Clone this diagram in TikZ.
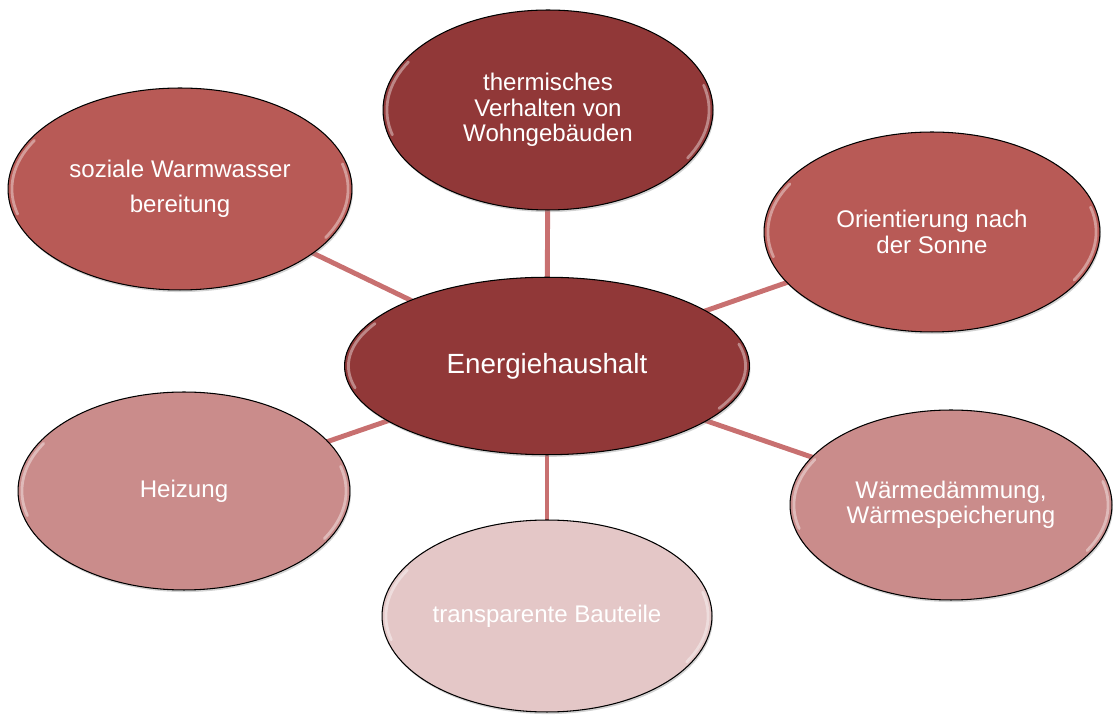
\documentclass[tikz,border=0pt]{standalone}
\usepackage{fontspec}
\setmainfont{Liberation Sans}
\usepackage{tikz}
\usetikzlibrary{shapes.geometric,backgrounds,shadows,calc}

\definecolor{dunkelrot}{HTML}{913838}
\definecolor{mittelrot}{HTML}{B85A56}
\definecolor{hellrot}{HTML}{CA8C8B}
\definecolor{blassrot}{HTML}{E4C7C7}
\definecolor{linie}{HTML}{C87070}

\tikzset{
  bubble/.style={ellipse,draw=black,line width=0.6pt,inner sep=0pt,
    text=white,align=center,font=\fontsize{13.7}{14.5}\selectfont,
    drop shadow={opacity=.35,shadow xshift=0.6pt,shadow yshift=-1.2pt},
    path picture={
      \draw[white,opacity=.4,line width=1.6pt,line cap=round]
        let \p1=($(path picture bounding box.north east)-(path picture bounding box.center)$) in
        (path picture bounding box.center) ++(150:{\x1-2.2pt} and {\y1-2.2pt})
          arc[start angle=150,end angle=195,x radius=\x1-2.2pt,y radius=\y1-2.2pt]
        (path picture bounding box.center) ++(330:{\x1-2.2pt} and {\y1-2.2pt})
          arc[start angle=330,end angle=375,x radius=\x1-2.2pt,y radius=\y1-2.2pt];
    }},
}

\begin{document}
\begin{tikzpicture}[x=0.02cm,y=-0.02cm]
	\useasboundingbox (0,0) rectangle (1113,715);
		\begin{scope}[every node/.style={bubble}]
		    \node[fill=dunkelrot,minimum width=8.1cm,minimum height=3.55cm,font=\fontsize{15.8}{17}\selectfont]
		        (energie) at (547,366) {Energiehaushalt};
		    \node[fill=dunkelrot,minimum width=6.6cm,minimum height=4cm]
		        (thermisch) at (548,110) {thermisches\\Verhalten von\\Wohngebäuden};
		    \node[fill=mittelrot,minimum width=6.88cm,minimum height=4.04cm,font=\fontsize{13.7}{19.8}\selectfont]
		        (warmwasser) at (180,189) {soziale Warmwasser\\bereitung};
		    \node[fill=mittelrot,minimum width=6.72cm,minimum height=4cm]
		        (sonne) at (932,232) {Orientierung nach\\der Sonne};
		    \node[fill=hellrot,minimum width=6.64cm,minimum height=3.96cm]
		        (heizung) at (184,491) {Heizung};
		    \node[fill=hellrot,minimum width=6.44cm,minimum height=3.8cm]
		        (daemmung) at (951,505) {Wärmedämmung,\\Wärmespeicherung};
		    \node[fill=blassrot,minimum width=6.6cm,minimum height=3.84cm]
		        (bauteile) at (547,616) {transparente Bauteile};
		\end{scope}

		\begin{pgfonlayer}{background}
		\begin{scope}[every edge/.style={draw=linie,line width=2.8pt}]
		    \path (energie.center) edge (thermisch.center);
		    \path (energie.center) edge (warmwasser.center);
		    \path (energie.center) edge (sonne.center);
		    \path (energie.center) edge (heizung.center);
		    \path (energie.center) edge (daemmung.center);
		    \path (energie.center) edge (bauteile.center);
		\end{scope}
		\end{pgfonlayer}
\end{tikzpicture}
\end{document}
